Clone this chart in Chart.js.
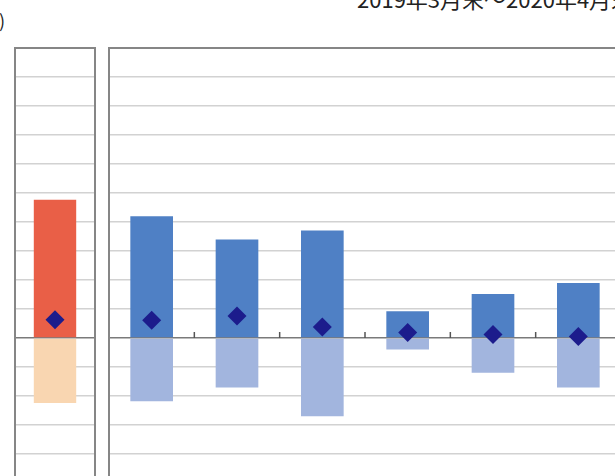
<!DOCTYPE html>
<html>
<head>
<meta charset="utf-8">
<script src="https://cdn.jsdelivr.net/npm/chart.js@4"></script>
<style>
    html, body { margin: 0; padding: 0; background: #fff; }
    body { width: 615px; height: 476px; overflow: hidden; position: relative; }
    #leftWrap { position: absolute; left: 0; top: 0; width: 100px; height: 490px; }
    #rightWrap { position: absolute; left: 100px; top: 0; width: 620px; height: 490px; }
    .txt { position: absolute; white-space: nowrap; color: #222; font-family: "Noto Sans CJK JP", sans-serif; }
    #period { left: 357px; top: -13px; font-size: 22px; line-height: 22px; }
    #unit { right: 610px; top: 11px; font-size: 18px; line-height: 18px; }
</style>
</head>
<body>
<div class="txt" id="period">2019年3月末～2020年4月末</div>
<div class="txt" id="unit">(%)</div>
<div id="leftWrap"><canvas id="leftChart" width="100" height="490"></canvas></div>
<div id="rightWrap"><canvas id="rightChart" width="620" height="490"></canvas></div>
<script>
    // 左パネル（合計）
    const leftLabels = ['合計'];
    const leftPos = [4.77];
    const leftNeg = [-2.24];
    const leftNet = [0.63];

    // 右パネル（内訳）
    const rightLabels = ['1', '2', '3', '4', '5', '6'];
    const rightPos = [4.20, 3.40, 3.71, 0.92, 1.52, 1.90];
    const rightNeg = [-2.18, -1.71, -2.70, -0.40, -1.20, -1.71];
    const rightNet = [0.61, 0.76, 0.38, 0.19, 0.12, 0.05];

    const yMin = -5;
    const yMax = 10;

    // 枠線と0の目盛り
    const framePlugin = {
        id: 'frame',
        afterDatasetsDraw(chart, args, opts) {
            const ctx = chart.ctx;
            const area = chart.chartArea;
            ctx.save();
            if (opts.ticks) {
                const x = chart.scales.x;
                const y0 = chart.scales.y.getPixelForValue(0);
                const half = (x.getPixelForValue(1) - x.getPixelForValue(0)) / 2;
                ctx.strokeStyle = '#555';
                ctx.lineWidth = 1.5;
                for (let i = 0; i <= chart.data.labels.length; i++) {
                    const px = x.getPixelForValue(0) - half + i * half * 2;
                    ctx.beginPath();
                    ctx.moveTo(px, y0);
                    ctx.lineTo(px, y0 - 6);
                    ctx.stroke();
                }
            }
            ctx.strokeStyle = '#868686';
            ctx.lineWidth = 2;
            ctx.strokeRect(area.left, area.top, area.right - area.left, area.bottom - area.top);
            ctx.restore();
        }
    };

    function makeChart(id, labels, pos, neg, net, posColor, negColor, barPct, padding, ticks) {
        return new Chart(document.getElementById(id), {
            type: 'bar',
            data: {
                labels: labels,
                datasets: [
                    {
                        label: 'プラス',
                        data: pos,
                        backgroundColor: posColor,
                        barPercentage: barPct,
                        categoryPercentage: 1,
                        order: 2
                    },
                    {
                        label: 'マイナス',
                        data: neg,
                        backgroundColor: negColor,
                        barPercentage: barPct,
                        categoryPercentage: 1,
                        order: 2
                    },
                    {
                        type: 'line',
                        label: 'ネット',
                        data: net,
                        showLine: false,
                        pointStyle: 'rectRot',
                        pointRadius: 9.5,
                        pointBackgroundColor: '#1c1c8c',
                        pointBorderColor: '#1c1c8c',
                        pointBorderWidth: 0,
                        order: 1
                    }
                ]
            },
            options: {
                responsive: false,
                animation: false,
                layout: { padding: padding, autoPadding: false },
                plugins: {
                    legend: { display: false },
                    tooltip: { enabled: false },
                    frame: { ticks: ticks }
                },
                scales: {
                    x: {
                        display: false,
                        stacked: true,
                        offset: true
                    },
                    y: {
                        min: yMin,
                        max: yMax,
                        ticks: { display: false, stepSize: 1 },
                        border: { display: false },
                        grid: {
                            drawTicks: false,
                            lineWidth: 1.5,
                            color: (c) => c.tick && c.tick.value === 0 ? '#7a7a7a' : '#d2d2d2'
                        }
                    }
                }
            },
            plugins: [framePlugin]
        });
    }

    makeChart('leftChart', leftLabels, leftPos, leftNeg, leftNet,
        '#e95f47', '#f9d6b1', 0.53, { left: 15, right: 5, top: 48, bottom: 7 }, false);
    makeChart('rightChart', rightLabels, rightPos, rightNeg, rightNet,
        '#4f80c5', '#a2b5de', 0.5, { left: 9, right: 99, top: 48, bottom: 7 }, true);
</script>
</body>
</html>
